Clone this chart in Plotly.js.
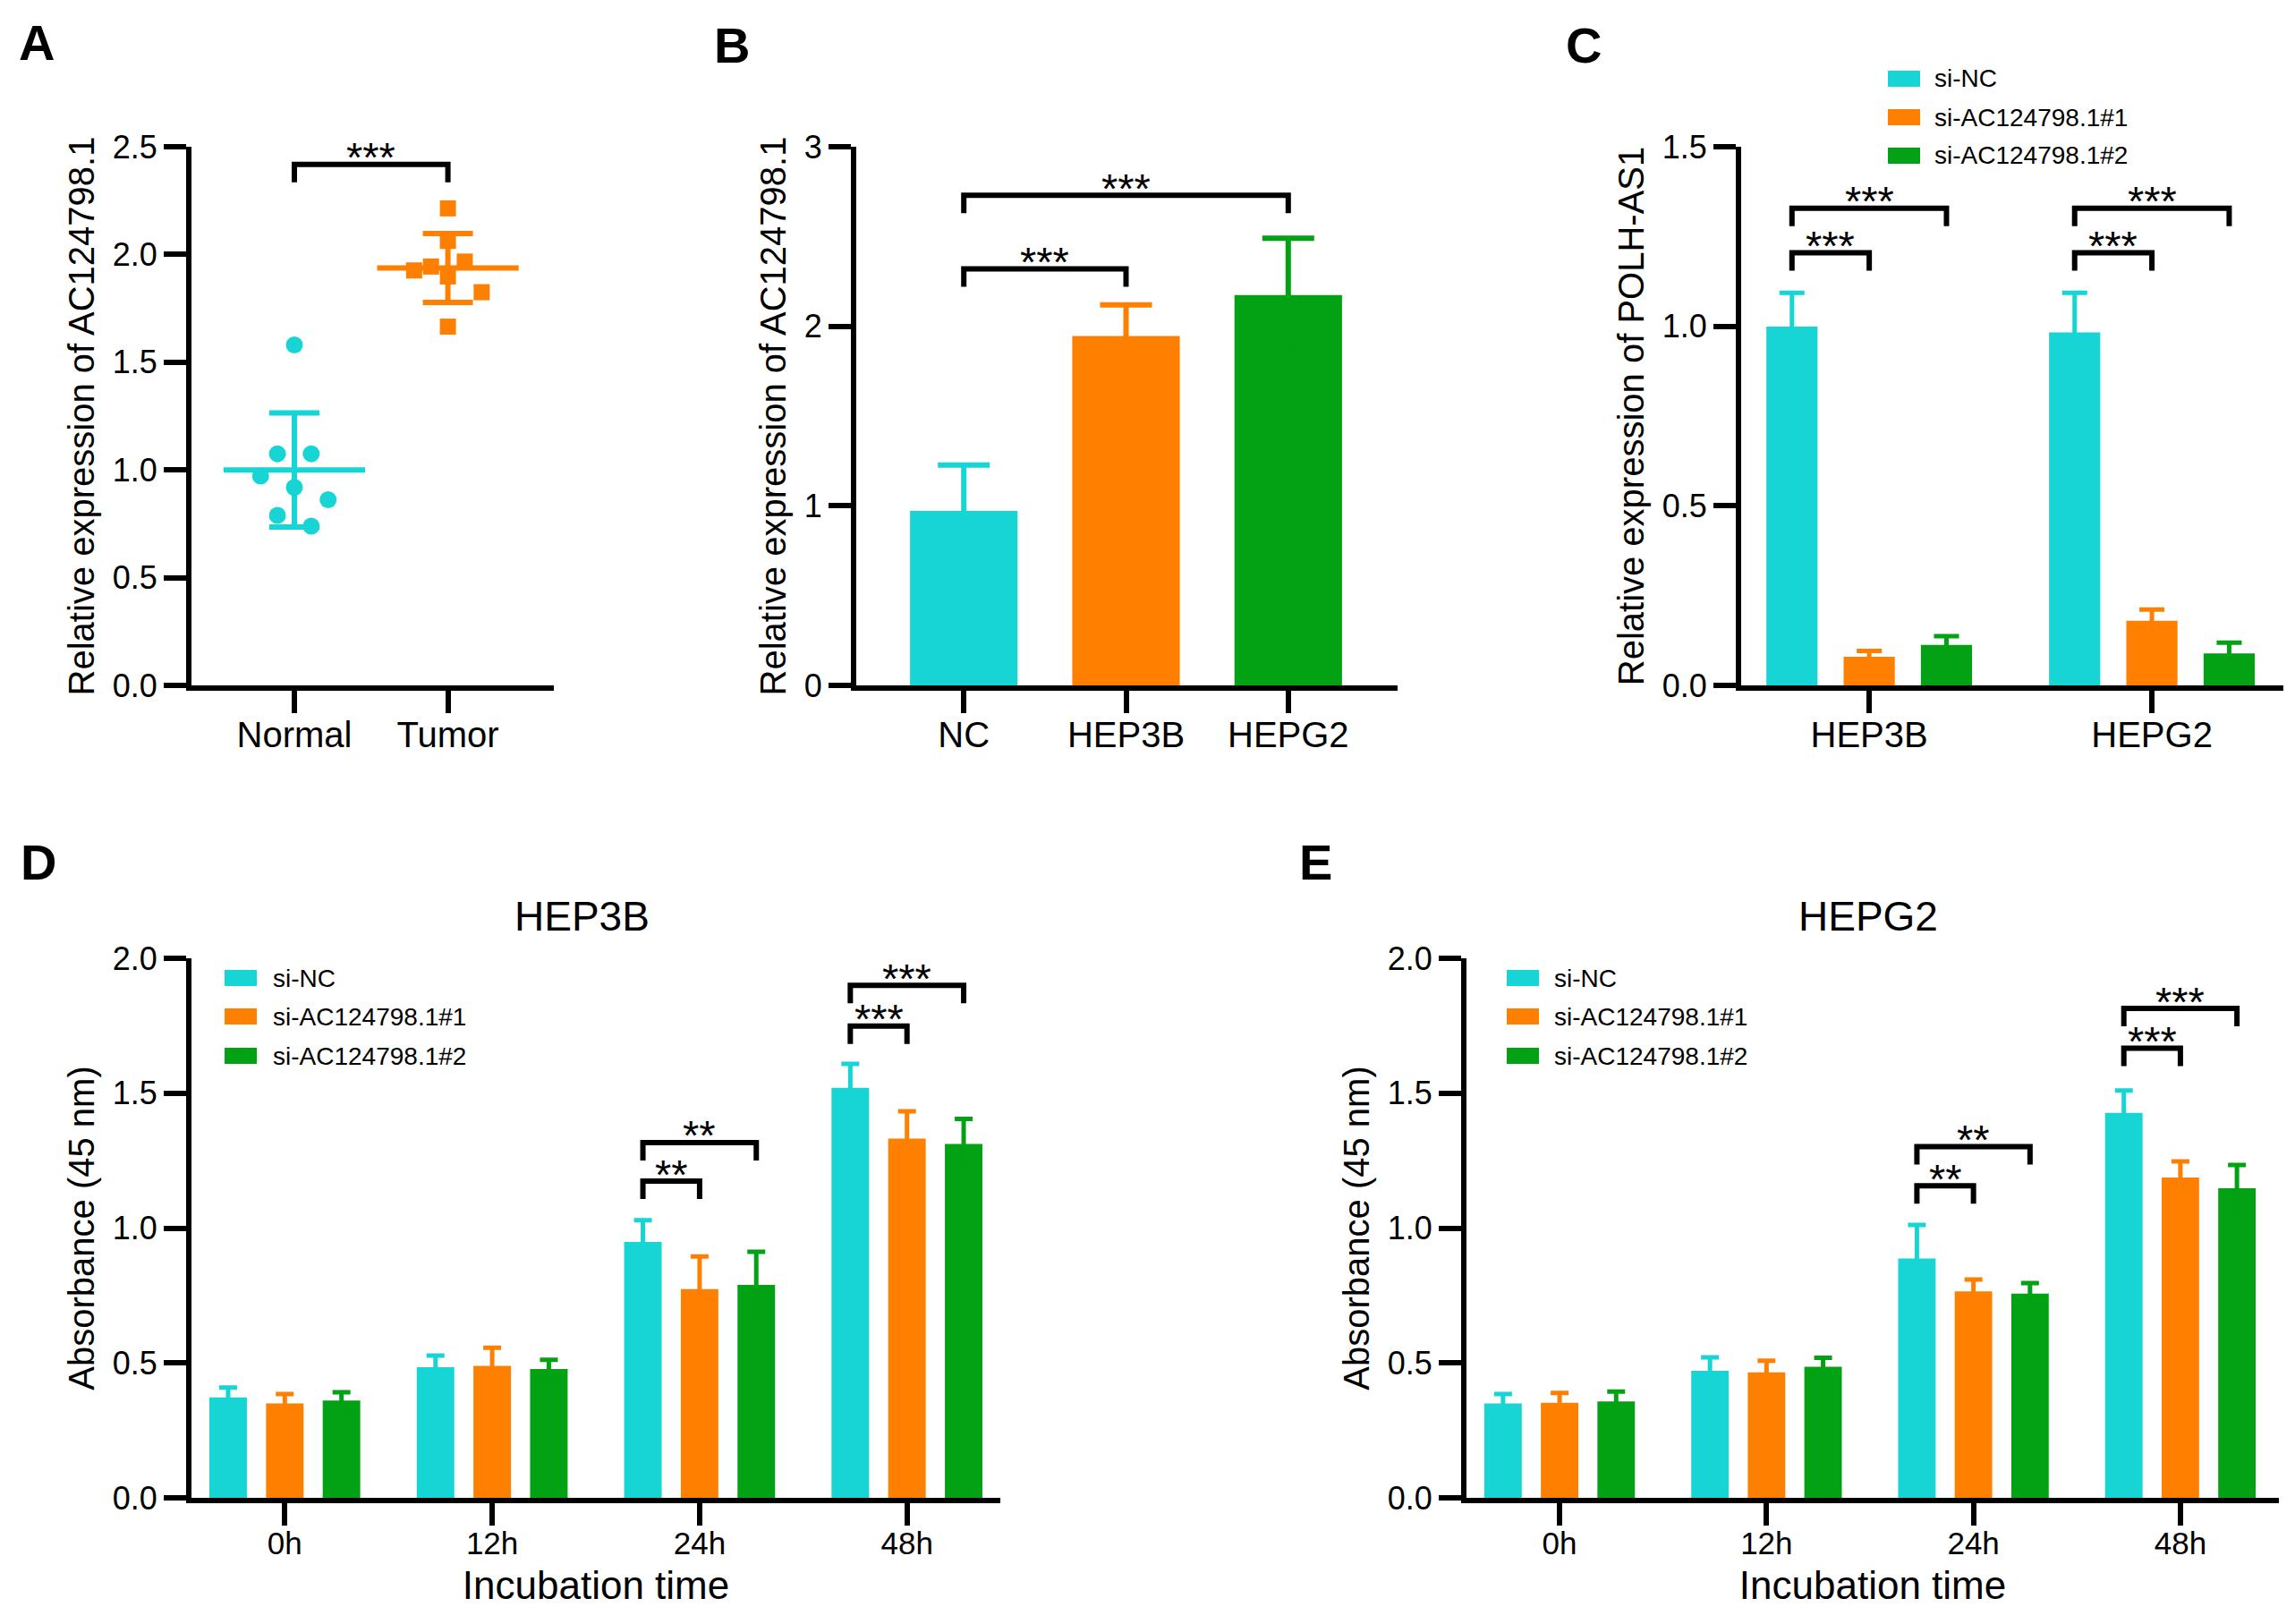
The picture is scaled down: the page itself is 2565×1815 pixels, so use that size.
<!DOCTYPE html>
<html>
<head>
<meta charset="utf-8">
<script src="https://cdn.plot.ly/plotly-3.0.1.min.js"></script>
<style>
  html, body { margin: 0; padding: 0; background: #fff; }
  #fig { width: 2565px; height: 1815px; }
</style>
</head>
<body>
<div id="fig"></div>
<script>
// ---- data ----
// A: dot plot
const groupsA = ["Normal", "Tumor"];
const normalVals = [1.58, 1.075, 1.075, 0.972, 0.919, 0.862, 0.789, 0.739];
const normalJitter = [0, -0.11, 0.11, -0.22, 0, 0.22, -0.11, 0.11];
const tumorVals = [2.214, 2.063, 1.967, 1.944, 1.926, 1.898, 1.825, 1.665];
const tumorJitter = [0, 0, 0.11, -0.11, -0.22, 0, 0.22, 0];
const meansA = [1.0, 1.937];
const sdA = [0.265, 0.16];

// B
const cellsB = ["NC", "HEP3B", "HEPG2"];
const valsB = [0.972, 1.946, 2.174];
const errB = [0.255, 0.173, 0.316];

// C
const seriesNames = ["si-NC", "si-AC124798.1#1", "si-AC124798.1#2"];
const cellsC = ["HEP3B", "HEPG2"];
const valsC = [[0.999, 0.983], [0.080, 0.180], [0.113, 0.089]];
const errC = [[0.094, 0.110], [0.016, 0.031], [0.024, 0.030]];

// D (HEP3B) and E (HEPG2)
const times = ["0h", "12h", "24h", "48h"];
const valsD = [[0.372, 0.484, 0.949, 1.520], [0.350, 0.489, 0.774, 1.332], [0.361, 0.478, 0.789, 1.312]];
const errD = [[0.037, 0.043, 0.080, 0.089], [0.035, 0.067, 0.121, 0.101], [0.030, 0.034, 0.123, 0.093]];
const valsE = [[0.350, 0.471, 0.887, 1.427], [0.352, 0.465, 0.765, 1.187], [0.357, 0.486, 0.757, 1.148]];
const errE = [[0.035, 0.050, 0.125, 0.083], [0.037, 0.043, 0.044, 0.060], [0.037, 0.033, 0.039, 0.086]];

// significance: [category, seriesFrom, seriesTo, bracketY, label]
const sigA = [[0, 1, 2.418, "***"]];
const sigB = [[0, 1, 2.32, "***"], [0, 2, 2.73, "***"]];
const sigC = [[0, 0, 1, 1.205, "***"], [0, 0, 2, 1.329, "***"], [1, 0, 1, 1.205, "***"], [1, 0, 2, 1.329, "***"]];
const sigD = [[2, 0, 1, 1.174, "**"], [2, 0, 2, 1.317, "**"], [3, 0, 1, 1.749, "***"], [3, 0, 2, 1.90, "***"]];
const sigE = [[2, 0, 1, 1.157, "**"], [2, 0, 2, 1.302, "**"], [3, 0, 1, 1.667, "***"], [3, 0, 2, 1.814, "***"]];

// ---- styling ----
const colors = ["#17d5d5", "#ff8000", "#03a114"];
const FONT = "'Liberation Sans', Arial, Helvetica, sans-serif";
const W = 2565, H = 1815;
const SLOT = 0.2733, BAR_W = 0.181;
const fx = (px) => px / W;
const fy = (py) => 1 - py / H;

const traces = [];
const shapes = [];
const annotations = [];

// A
[[normalVals, normalJitter, "circle"], [tumorVals, tumorJitter, "square"]].forEach(([vals, jit, sym], g) => {
  traces.push({
    type: "scatter", mode: "markers", xaxis: "x", yaxis: "y",
    x: jit.map((j) => g + j), y: vals,
    marker: { symbol: sym, size: sym === "circle" ? 19 : 18, color: colors[g] },
    cliponaxis: false, showlegend: false,
  });
  traces.push({
    type: "scatter", mode: "markers", xaxis: "x", yaxis: "y",
    x: [g], y: [meansA[g]],
    marker: { symbol: "line-ew", size: 113, color: colors[g], line: { width: 6, color: colors[g] } },
    error_y: { type: "data", array: [sdA[g]], width: 28, thickness: 6, color: colors[g] },
    cliponaxis: false, showlegend: false,
  });
});

// B - one trace per bar so each error bar keeps its bar colour
cellsB.forEach((c, i) => {
  traces.push({
    type: "bar", xaxis: "x2", yaxis: "y2",
    x: [i], y: [valsB[i]], width: 0.663,
    marker: { color: colors[i], line: { width: 0 } },
    error_y: { type: "data", array: [errB[i]], width: 29, thickness: 6, color: colors[i] },
    showlegend: false,
  });
});

// grouped bars helper (lower half of the error bar hides inside the bar)
function groupBars(vals, errs, cats, xa, ya, capW) {
  vals.forEach((v, k) => {
    traces.push({
      type: "bar", xaxis: xa, yaxis: ya, name: seriesNames[k],
      x: cats.map((c, i) => i), y: v,
      width: BAR_W, offset: (k - 1) * SLOT - BAR_W / 2,
      marker: { color: colors[k], line: { width: 0 } },
      error_y: { type: "data", array: errs[k], width: capW, thickness: 5, color: colors[k] },
      showlegend: false,
    });
  });
}
groupBars(valsC, errC, cellsC, "x3", "y3", 14);
groupBars(valsD, errD, times, "x4", "y4", 10);
groupBars(valsE, errE, times, "x5", "y5", 10);

// brackets
function brackets(list, xr, yr, leg, pos) {
  list.forEach((s) => {
    let x1, x2, y, lab;
    if (!pos) { [x1, x2, y, lab] = s; }
    else { x1 = pos(s[0], s[1]); x2 = pos(s[0], s[2]); y = s[3]; lab = s[4]; }
    shapes.push({
      type: "path", xref: xr, yref: yr, layer: "above",
      path: `M${x1},${y - leg} L${x1},${y} L${x2},${y} L${x2},${y - leg}`,
      line: { color: "#000", width: 6 },
    });
    annotations.push({
      xref: xr, yref: yr, x: (x1 + x2) / 2, y: y, text: lab, showarrow: false,
      yanchor: "middle", yshift: 8, font: { family: FONT, size: 47, color: "#000" },
    });
  });
}
const grpPos = (c, k) => c + (k - 1) * SLOT;
brackets(sigA, "x", "y", 2.5 * 20 / 602, null);
brackets(sigB, "x2", "y2", 3 * 20 / 602, null);
brackets(sigC, "x3", "y3", 1.5 * 20 / 602, grpPos);
brackets(sigD, "x4", "y4", 2 * 20 / 602, grpPos);
brackets(sigE, "x5", "y5", 2 * 20 / 602, grpPos);

// manual legends
function legendBlock(x0, rows, textX) {
  seriesNames.forEach((n, k) => {
    shapes.push({
      type: "rect", xref: "paper", yref: "paper",
      x0: fx(x0), x1: fx(x0 + 36), y0: fy(rows[k] + 9), y1: fy(rows[k] - 9),
      fillcolor: colors[k], line: { width: 0 },
    });
    annotations.push({
      xref: "paper", yref: "paper", x: fx(textX), y: fy(rows[k]), xanchor: "left", yanchor: "middle",
      text: n, showarrow: false, font: { family: FONT, size: 28, color: "#000" },
    });
  });
}
legendBlock(2110, [88, 131, 174], 2160);
legendBlock(251, [1093, 1136, 1180], 303);
legendBlock(1684, [1093, 1136, 1180], 1735);

// panel titles and letters
[["HEP3B", 651, 1024], ["HEPG2", 2088, 1024]].forEach(([t, x, y]) => {
  annotations.push({ xref: "paper", yref: "paper", x: fx(x), y: fy(y), text: t, showarrow: false,
    xanchor: "center", yanchor: "middle", font: { family: FONT, size: 46, color: "#000" } });
});
[["A", 41, 48], ["B", 818, 50], ["C", 1770, 50], ["D", 43, 964], ["E", 1470, 964]].forEach(([t, x, y]) => {
  annotations.push({ xref: "paper", yref: "paper", x: fx(x), y: fy(y), text: "<b>" + t + "</b>", showarrow: false,
    xanchor: "center", yanchor: "middle", font: { family: FONT, size: 56, color: "#000" } });
});

// axes
const axBase = {
  showline: true, linewidth: 6, linecolor: "#000", ticks: "outside", ticklen: 25, tickwidth: 6,
  tickcolor: "#000", showgrid: false, zeroline: false, fixedrange: true,
};
function xAx(l, r, anchor, range, labels, size, title) {
  return Object.assign({}, axBase, {
    domain: [fx(l), fx(r)], anchor: anchor, range: range,
    tickmode: "array", tickvals: labels.map((c, i) => i), ticktext: labels,
    ticklabelstandoff: -10,
    tickfont: { family: FONT, size: size, color: "#000" },
    title: title ? { text: title, font: { family: FONT, size: 44, color: "#000" }, standoff: 15 } : { text: "" },
  });
}
function yAx(top, bot, anchor, range, dtick, fmt, title) {
  return Object.assign({}, axBase, {
    domain: [fy(bot), fy(top)], anchor: anchor, range: range, dtick: dtick, tick0: 0, tickformat: fmt,
    tickfont: { family: FONT, size: 36, color: "#000" },
    title: { text: title, font: { family: FONT, size: 40, color: "#000" }, standoff: 10 },
  });
}

const layout = {
  width: W, height: H, margin: { l: 0, r: 0, t: 0, b: 0 },
  paper_bgcolor: "#fff", plot_bgcolor: "#fff", showlegend: false,
  font: { family: FONT, color: "#000" },
  xaxis: xAx(214, 619, "y", [-0.67, 1.69], groupsA, 40),
  yaxis: yAx(164, 766, "x", [0, 2.5], 0.5, ".1f", "Relative expression of AC124798.1"),
  xaxis2: xAx(957, 1562, "y2", [-0.663, 2.674], cellsB, 40),
  yaxis2: yAx(164, 766, "x2", [0, 3], 1, "d", "Relative expression of AC124798.1"),
  xaxis3: xAx(1946, 2552, "y3", [-0.453, 1.465], cellsC, 40),
  yaxis3: yAx(164, 766, "x3", [0, 1.5], 0.5, ".1f", "Relative expression of POLH-AS1"),
  xaxis4: xAx(214, 1118, "y4", [-0.45, 3.45], times, 35, "Incubation time"),
  yaxis4: yAx(1071, 1674, "x4", [0, 2], 0.5, ".1f", "Absorbance (45 nm)"),
  xaxis5: xAx(1639, 2547, "y5", [-0.45, 3.476], times, 35, "Incubation time"),
  yaxis5: yAx(1071, 1674, "x5", [0, 2], 0.5, ".1f", "Absorbance (45 nm)"),
  shapes: shapes,
  annotations: annotations,
};

Plotly.newPlot("fig", traces, layout, { staticPlot: true });
</script>
</body>
</html>
